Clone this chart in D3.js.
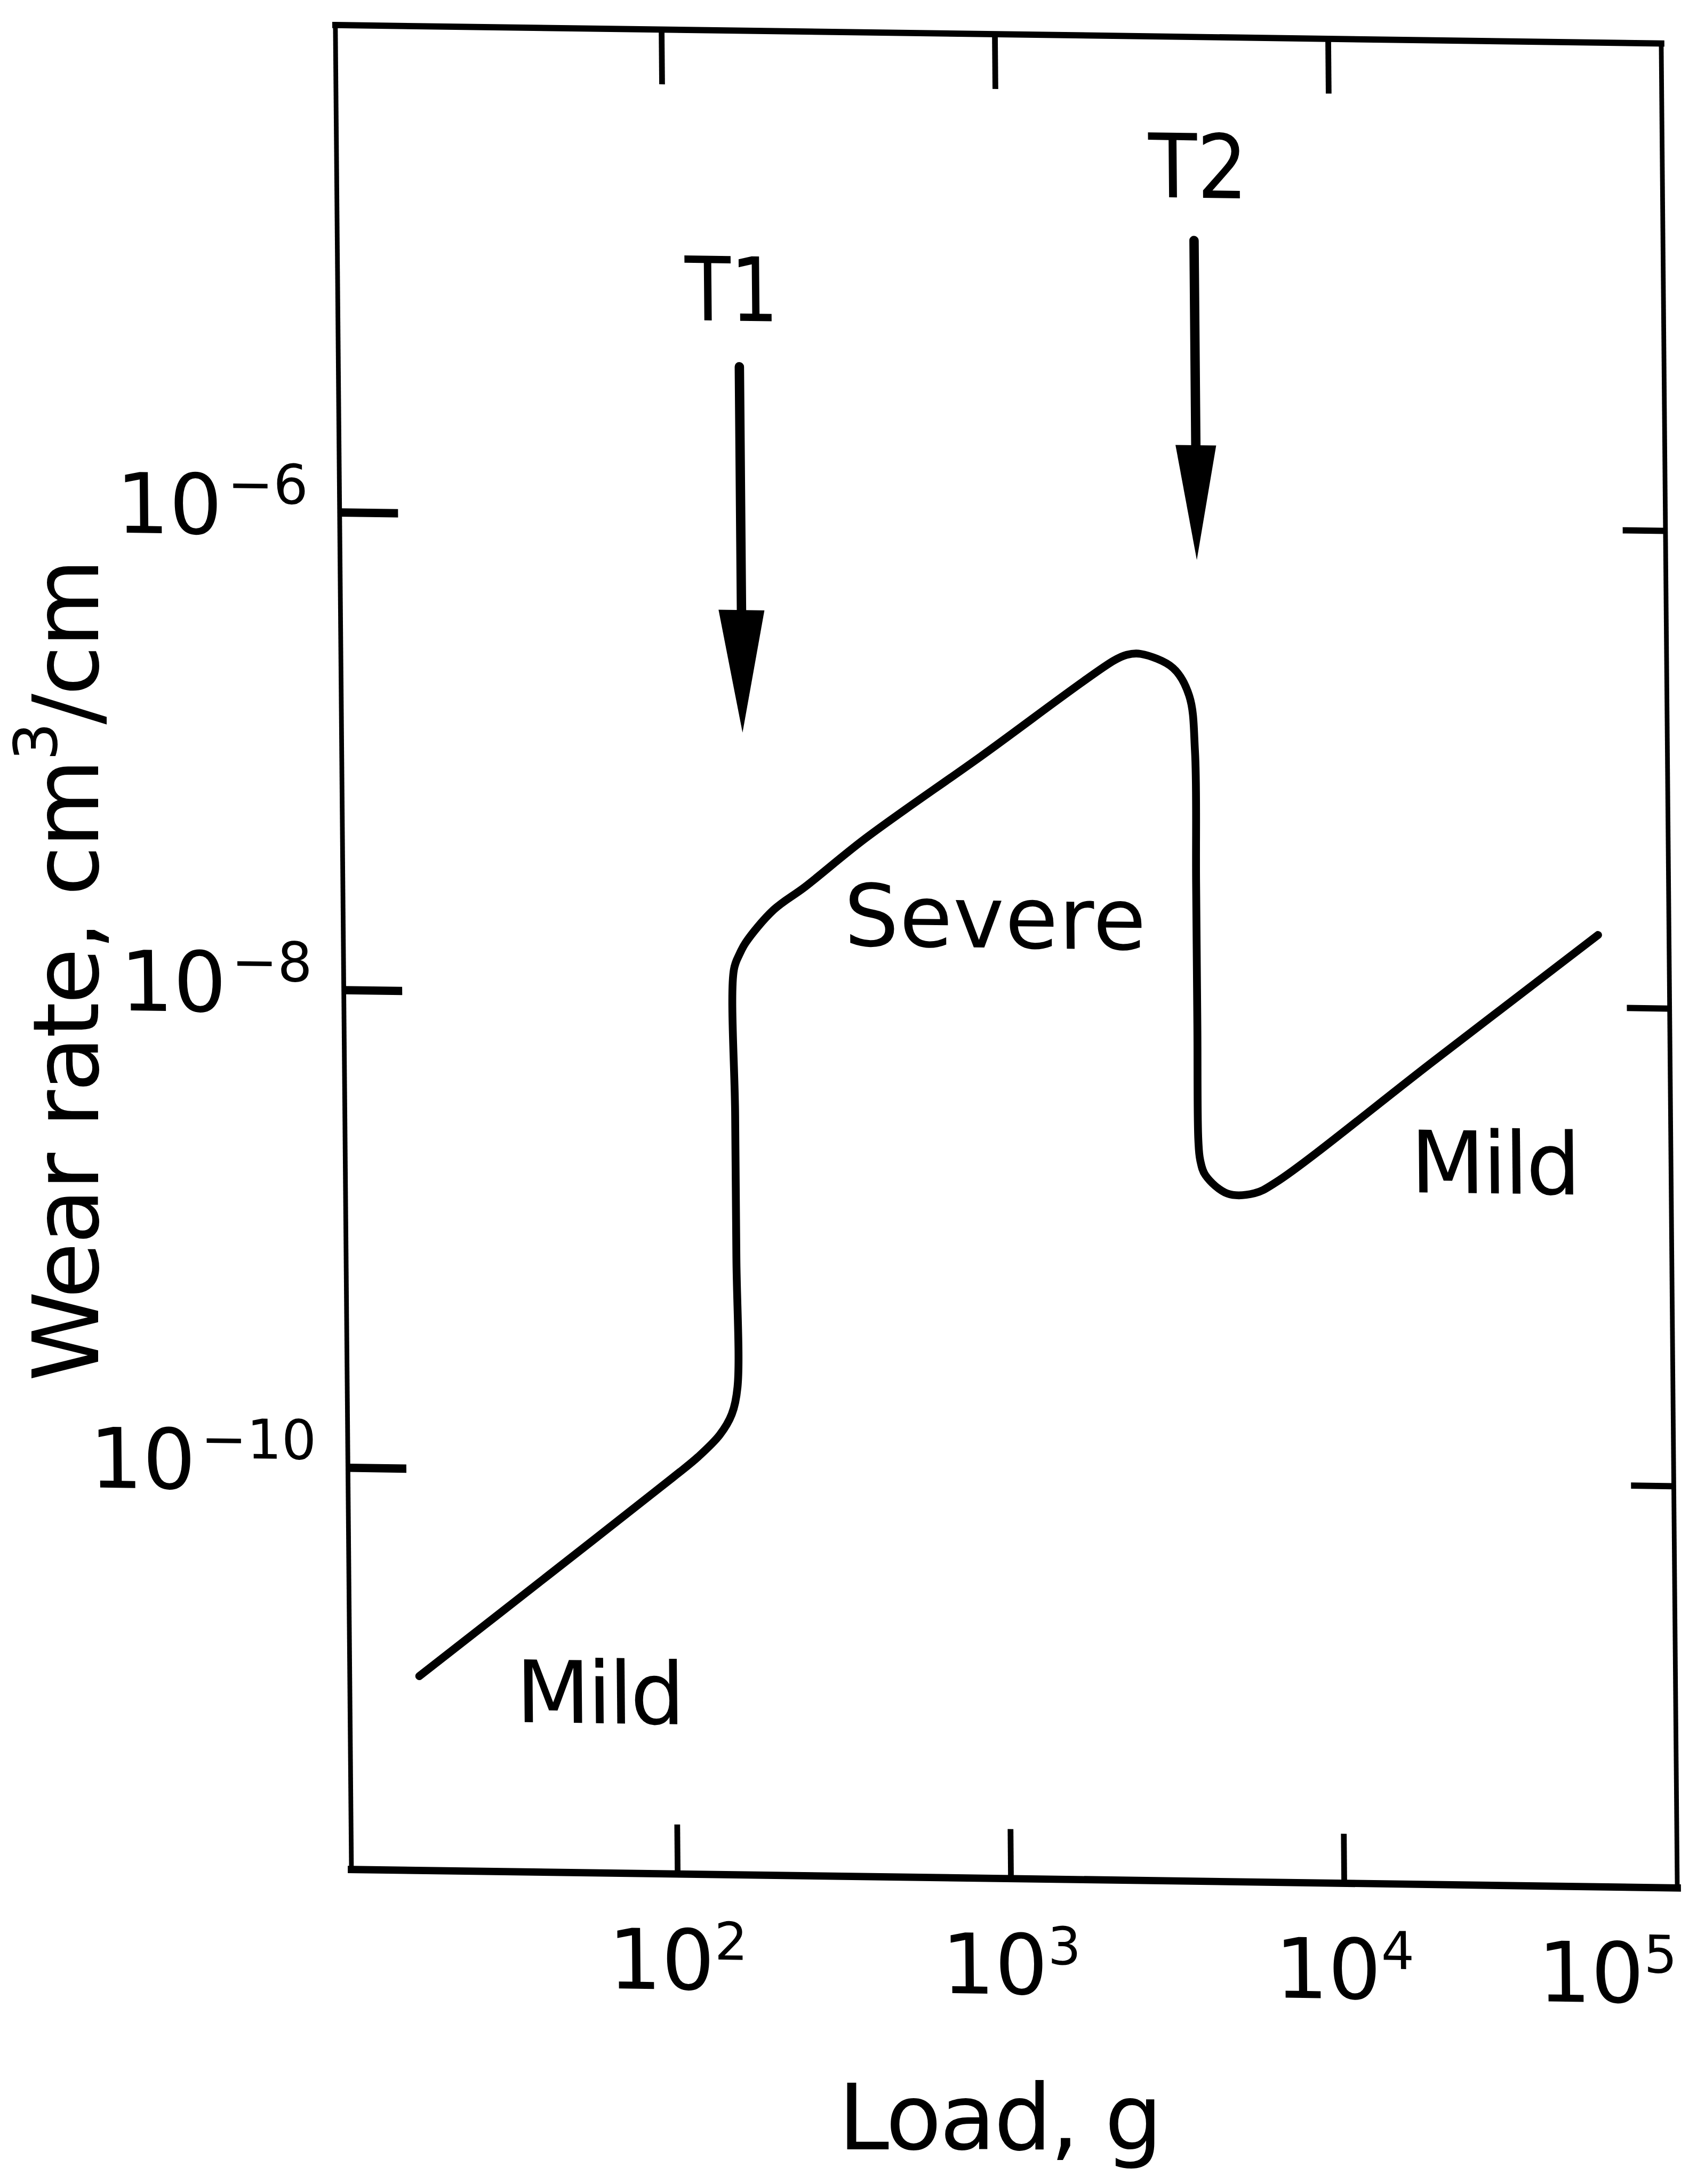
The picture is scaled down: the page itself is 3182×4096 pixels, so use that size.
<!DOCTYPE html>
<html><head><meta charset="utf-8">
<script src="https://cdn.jsdelivr.net/npm/d3@7"></script>
<style>html,body{margin:0;padding:0;background:#fff;} svg{display:block;}</style>
</head><body>
<script>
// ---- data (load in g, wear rate in cm^3/cm) ----
const loads = [17.0, 41.6, 99.2, 118.2, 137.6, 149.7, 156, 156, 156, 156, 162.4, 169.8, 205.9, 256.9, 390, 869, 2191, 2399, 2643, 3303, 3686, 3823, 3823, 3823, 3823, 3868, 4006, 4655, 5613, 6512, 19620, 61280];
const wearRates = [1.35e-11, 3.62e-11, 9.48e-11, 1.16e-10, 1.44e-10, 1.76e-10, 2.29e-10, 7.94e-10, 3.16e-9, 1.28e-8, 1.49e-8, 1.67e-8, 2.29e-8, 2.88e-8, 4.62e-8, 1.033e-7, 2.65e-7, 2.81e-7, 2.84e-7, 2.49e-7, 1.91e-7, 1.12e-7, 3.16e-8, 7.94e-9, 2.62e-9, 2.17e-9, 1.88e-9, 1.58e-9, 1.59e-9, 1.77e-9, 5.86e-9, 2.01e-8];

const xTickValues = [1e2, 1e3, 1e4];
const xLabelValues = [1e2, 1e3, 1e4, 1e5];
const xLabelExps = ["2", "3", "4", "5"];
const yTickValues = [1e-6, 1e-8, 1e-10];
const yLabelExps = ["\u22126", "\u22128", "\u221210"];

const transitionNames = ["T1", "T2"];
const transitionLoads = [168, 3917];
const arrowTopWear = [4.29e-6, 1.54e-5];
const arrowHeadWear = [4.11e-7, 2.14e-6];
const arrowTipWear = [1.26e-7, 7.08e-7];
const transitionLabelLoads = [160, 4046];
const transitionLabelWear = [6.68e-6, 2.33e-5];

const regimeNames = ["Mild", "Severe", "Mild"];
const regimeLoads = [59.4, 951, 29785];
const regimeWear = [8.79e-12, 1.64e-8, 1.64e-9];

const xTitle = "Load, g";

// ---- layout ----
const W = 2542, H = 3537;
const svg = d3.select("body").append("svg").attr("width", 3182).attr("height", 4096);
svg.append("rect").attr("width", 3182).attr("height", 4096).attr("fill", "#fff");
const root = svg.append("g").attr("transform", "scale(0.978)");
const plot = root.append("g").attr("transform", "translate(643,48) matrix(1,0.0139,0.0087,1,0,0)");

const x = d3.scaleLog().domain([Math.pow(10, 1.022), 1e5]).range([0, W]);
const y = d3.scaleLog().domain([Math.pow(10, -3.96), Math.pow(10, -11.683)]).range([0, H]);

const FONT = "DejaVu Sans, Liberation Sans, sans-serif";

// frame
const frame = plot.append("g").attr("stroke", "#000").attr("stroke-linecap", "square");
frame.append("line").attr("x1", 0).attr("y1", 0).attr("x2", W).attr("y2", 0).attr("stroke-width", 12);
frame.append("line").attr("x1", 0).attr("y1", 0).attr("x2", 0).attr("y2", H).attr("stroke-width", 9);
frame.append("line").attr("x1", W).attr("y1", 0).attr("x2", W).attr("y2", H).attr("stroke-width", 9);
frame.append("line").attr("x1", 0).attr("y1", H).attr("x2", W).attr("y2", H).attr("stroke-width", 14);

function styleAxis(g, sw) {
  g.select(".domain").remove();
  g.selectAll("text").remove();
  g.selectAll("line").attr("stroke", "#000").attr("stroke-width", sw);
}
plot.append("g").attr("transform", `translate(0,${H})`)
  .call(d3.axisBottom(x).tickValues(xTickValues).tickSize(-95).tickFormat(""))
  .call(g => styleAxis(g, 11));
plot.append("g")
  .call(d3.axisTop(x).tickValues(xTickValues).tickSize(-105).tickFormat(""))
  .call(g => styleAxis(g, 11));
plot.append("g")
  .call(d3.axisLeft(y).tickValues(yTickValues).tickSize(-112).tickFormat(""))
  .call(g => styleAxis(g, 16));
plot.append("g").attr("transform", `translate(${W},0)`)
  .call(d3.axisRight(y).tickValues(yTickValues).tickSize(-82).tickFormat(""))
  .call(g => styleAxis(g, 12));

// x tick labels
const xl = plot.append("g").attr("font-family", FONT).attr("fill", "#000")
  .selectAll("text").data(xLabelValues).join("text")
  .attr("x", (d, i) => x(d) + (i === xLabelValues.length - 1 ? -135 : 0))
  .attr("y", H + 221)
  .attr("text-anchor", "middle")
  .attr("font-size", 160);
xl.append("tspan").text("10");
xl.append("tspan").attr("font-size", 100).attr("dy", -58).text((d, i) => xLabelExps[i]);

// y tick labels
const yl = plot.append("g").attr("font-family", FONT).attr("fill", "#000")
  .selectAll("text").data(yTickValues).join("text")
  .attr("x", -60)
  .attr("y", d => y(d) + 45)
  .attr("text-anchor", "end")
  .attr("font-size", 160);
yl.append("tspan").text("10");
yl.append("tspan").attr("font-size", 105).attr("dy", -60).attr("dx", 10).text((d, i) => yLabelExps[i]);

// curve
const line = d3.line().x(d => x(d[0])).y(d => y(d[1])).curve(d3.curveCatmullRom.alpha(0.5));
plot.append("path").datum(d3.zip(loads, wearRates))
  .attr("d", line).attr("fill", "none").attr("stroke", "#000")
  .attr("stroke-width", 15).attr("stroke-linecap", "round").attr("stroke-linejoin", "round");

// transition arrows
const headHalf = [44, 39];
transitionNames.forEach((name, i) => {
  const ax = x(transitionLoads[i]);
  plot.append("line").attr("x1", ax).attr("x2", ax)
    .attr("y1", y(arrowTopWear[i])).attr("y2", y(arrowHeadWear[i]) + 10)
    .attr("stroke", "#000").attr("stroke-width", 18).attr("stroke-linecap", "round");
  plot.append("path")
    .attr("d", `M${ax - headHalf[i]},${y(arrowHeadWear[i])}L${ax + headHalf[i]},${y(arrowHeadWear[i])}L${ax},${y(arrowTipWear[i])}Z`)
    .attr("fill", "#000");
  plot.append("text").attr("font-family", FONT).attr("font-size", 170)
    .attr("text-anchor", "middle")
    .attr("x", x(transitionLabelLoads[i])).attr("y", y(transitionLabelWear[i]))
    .attr("textLength", i === 0 ? 179 : 190).attr("lengthAdjust", "spacingAndGlyphs")
    .text(name);
});

// regime labels
const regimeWidths = [324, 579, 326];
plot.append("g").attr("font-family", FONT).attr("font-size", 165)
  .selectAll("text").data(regimeNames).join("text")
  .attr("text-anchor", "middle")
  .attr("x", (d, i) => x(regimeLoads[i]))
  .attr("y", (d, i) => y(regimeWear[i]))
  .attr("textLength", (d, i) => regimeWidths[i]).attr("lengthAdjust", "spacing")
  .text(d => d);

// axis titles
root.append("text").attr("font-family", FONT).attr("font-size", 175)
  .attr("text-anchor", "middle").attr("x", 1918).attr("y", 4122)
  .attr("textLength", 622).attr("lengthAdjust", "spacing")
  .text(xTitle);

const yt = root.append("text").attr("font-family", FONT).attr("font-size", 175)
  .attr("text-anchor", "middle")
  .attr("transform", "translate(188,1860) rotate(-90)")
  .attr("textLength", 1578).attr("lengthAdjust", "spacing");
yt.append("tspan").text("Wear rate, cm");
yt.append("tspan").attr("font-size", 115).attr("dy", -80).text("3");
yt.append("tspan").attr("dy", 80).text("/cm");
</script>
</body></html>
